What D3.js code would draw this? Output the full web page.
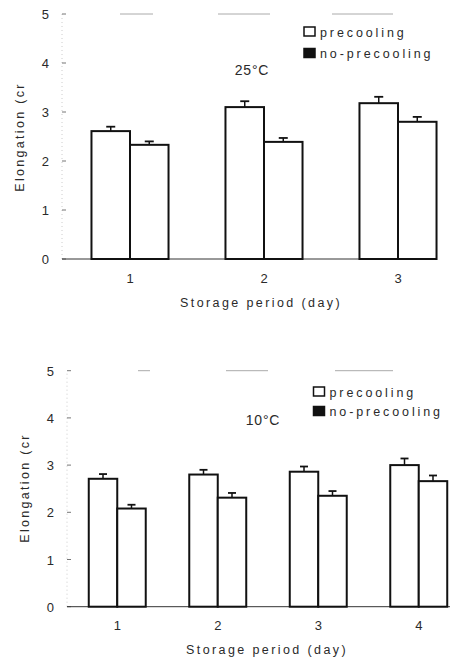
<!DOCTYPE html>
<html>
<head>
<meta charset="utf-8">
<script src="https://cdn.jsdelivr.net/npm/d3@7/dist/d3.min.js"></script>
<style>
  html, body { margin: 0; padding: 0; background: #fff; }
  svg { display: block; }
  text { font-family: "Liberation Sans", Arial, sans-serif; fill: #2a2a2a; }
</style>
</head>
<body>
<svg id="chart" width="452" height="659"></svg>
<script>
// ---- data ----
const seriesNames = ["precooling", "no-precooling"];
const yTicks = [0, 1, 2, 3, 4, 5];

const days25 = ["1", "2", "3"];
const pre25 = [2.61, 3.10, 3.18];
const pre25Err = [0.09, 0.12, 0.13];
const no25 = [2.33, 2.39, 2.80];
const no25Err = [0.07, 0.08, 0.10];

const days10 = ["1", "2", "3", "4"];
const pre10 = [2.71, 2.80, 2.86, 3.00];
const pre10Err = [0.10, 0.10, 0.11, 0.14];
const no10 = [2.08, 2.31, 2.35, 2.66];
const no10Err = [0.08, 0.10, 0.10, 0.12];

const svg = d3.select("#chart");

function drawPanel(cfg) {
  const g = svg.append("g");
  const y = d3.scaleLinear().domain([0, 5]).range([cfg.y0, cfg.y5]);
  const x = d3.scaleBand().domain(cfg.days).range([cfg.xr0, cfg.xr1])
    .paddingInner(cfg.pad).paddingOuter(cfg.pad / 2);
  const xs = d3.scaleBand().domain(seriesNames).range([0, x.bandwidth()]);

  // faint dotted y axis line
  g.append("line").attr("x1", cfg.ax).attr("x2", cfg.ax)
    .attr("y1", y(0)).attr("y2", y(5))
    .attr("stroke", "#ccc").attr("stroke-width", 1).attr("stroke-dasharray", "1,3");

  // y ticks and labels
  const yt = g.selectAll(".yt").data(yTicks).enter().append("g");
  yt.append("line").attr("x1", cfg.ax).attr("x2", cfg.ax + 4)
    .attr("y1", d => y(d)).attr("y2", d => y(d))
    .attr("stroke", "#777").attr("stroke-width", 1);
  yt.append("text").attr("x", cfg.ax - 13).attr("y", d => y(d) + 5)
    .attr("text-anchor", "end").attr("font-size", 13).text(d => d);

  // faint line at top
  g.append("line").attr("x1", cfg.ax).attr("x2", cfg.xEnd)
    .attr("y1", y(5)).attr("y2", y(5))
    .attr("stroke", "#aaa").attr("stroke-width", 1).attr("stroke-dasharray", cfg.topDash);

  // baseline
  g.append("line").attr("x1", cfg.ax).attr("x2", cfg.xEnd)
    .attr("y1", y(0)).attr("y2", y(0))
    .attr("stroke", "#333").attr("stroke-width", 1);

  const rows = cfg.days.map((d, i) => ({
    day: d,
    vals: [
      { s: seriesNames[0], v: cfg.pre[i], e: cfg.preErr[i] },
      { s: seriesNames[1], v: cfg.no[i], e: cfg.noErr[i] }
    ]
  }));

  const grp = g.selectAll(".grp").data(rows).enter().append("g")
    .attr("transform", d => `translate(${x(d.day)},0)`);

  // error bars
  const eb = grp.selectAll(".eb").data(d => d.vals).enter().append("g");
  eb.append("line")
    .attr("x1", d => xs(d.s) + xs.bandwidth() / 2).attr("x2", d => xs(d.s) + xs.bandwidth() / 2)
    .attr("y1", d => y(d.v)).attr("y2", d => y(d.v + d.e))
    .attr("stroke", "#111").attr("stroke-width", 1.5);
  eb.append("line")
    .attr("x1", d => xs(d.s) + xs.bandwidth() / 2 - cfg.cap / 2)
    .attr("x2", d => xs(d.s) + xs.bandwidth() / 2 + cfg.cap / 2)
    .attr("y1", d => y(d.v + d.e)).attr("y2", d => y(d.v + d.e))
    .attr("stroke", "#111").attr("stroke-width", 1.8);

  grp.selectAll(".bar").data(d => d.vals).enter().append("rect")
    .attr("x", d => xs(d.s)).attr("width", xs.bandwidth())
    .attr("y", d => y(d.v)).attr("height", d => y(0) - y(d.v))
    .attr("fill", "#fff").attr("stroke", "#111").attr("stroke-width", 2);

  // x tick labels
  g.selectAll(".xl").data(cfg.days).enter().append("text")
    .attr("x", d => x(d) + x.bandwidth() / 2).attr("y", cfg.xTickY)
    .attr("text-anchor", "middle").attr("font-size", 13).text(d => d);

  // x title
  g.append("text").attr("x", cfg.xTitleX).attr("y", cfg.xTitleY)
    .attr("text-anchor", "middle").attr("font-size", 12.5)
    .attr("letter-spacing", "2.4px").text("Storage period (day)");

  // y title
  g.append("text").attr("transform", `translate(${cfg.yTitleX},${cfg.yTitleY}) rotate(-90)`)
    .attr("text-anchor", "middle").attr("font-size", 12.5)
    .attr("letter-spacing", "2.3px").text("Elongation (cr");

  // panel title
  g.append("text").attr("x", cfg.titleX).attr("y", cfg.titleY)
    .attr("text-anchor", "middle").attr("font-size", 14)
    .attr("letter-spacing", "0.8px").text(cfg.title);

  // legend
  const lg = g.selectAll(".lg").data(seriesNames).enter().append("g")
    .attr("transform", (d, i) => `translate(${cfg.legX},${cfg.legY + i * cfg.legStep})`);
  lg.append("rect").attr("x", 0).attr("y", 0).attr("width", 11).attr("height", 9)
    .attr("fill", (d, i) => i === 0 ? "#fff" : "#111")
    .attr("stroke", "#111").attr("stroke-width", 1.5);
  lg.append("text").attr("x", 16).attr("y", 9.5).attr("font-size", 12.5)
    .attr("letter-spacing", "2.9px").text(d => d);
}

drawPanel({
  days: days25, pre: pre25, preErr: pre25Err, no: no25, noErr: no25Err,
  y0: 259, y5: 14, xr0: 63, xr1: 465, pad: 0.425, ax: 62, xEnd: 437,
  topDash: "0,58,33,65,52,62,61,200", cap: 9,
  xTickY: 283, xTitleX: 261, xTitleY: 307, yTitleX: 24, yTitleY: 137,
  title: "25°C", titleX: 252, titleY: 75,
  legX: 304, legY: 27, legStep: 21.5
});

drawPanel({
  days: days10, pre: pre10, preErr: pre10Err, no: no10, noErr: no10Err,
  y0: 606.7, y5: 370.7, xr0: 67, xr1: 469, pad: 0.433, ax: 67, xEnd: 450,
  topDash: "0,71,12,76,42,67,58,200", cap: 8,
  xTickY: 630, xTitleX: 267, xTitleY: 654, yTitleX: 29, yTitleY: 488,
  title: "10°C", titleX: 263, titleY: 425,
  legX: 313.5, legY: 387, legStep: 19.5
});
</script>
</body>
</html>
